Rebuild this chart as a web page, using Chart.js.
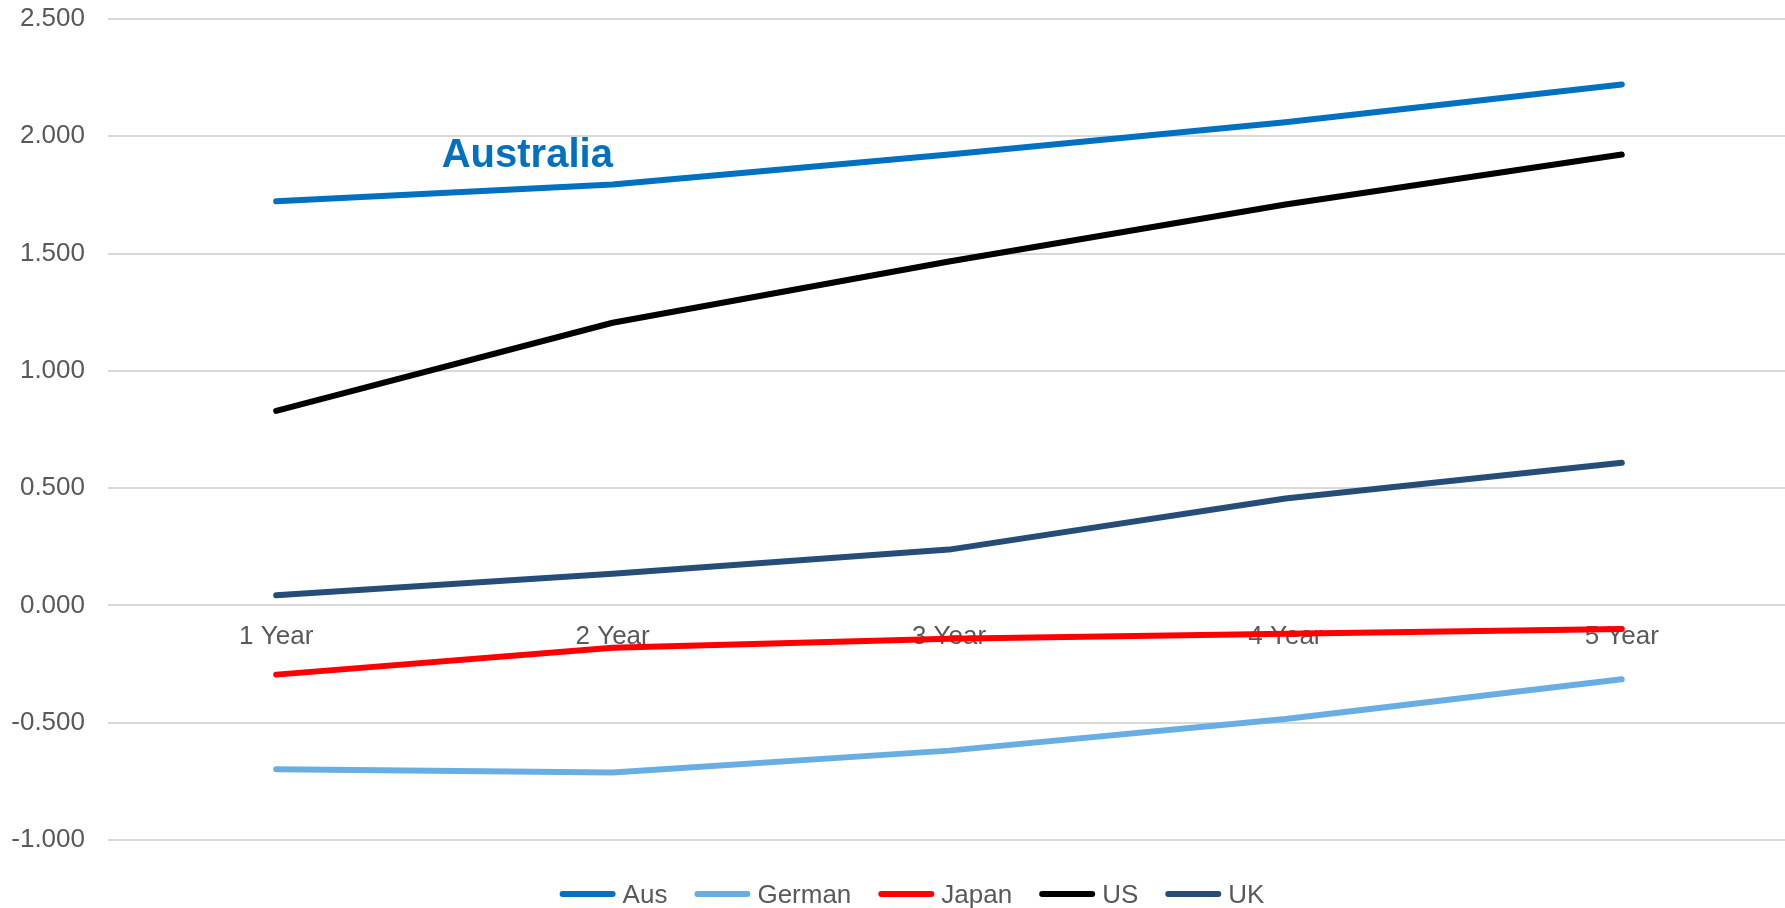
<!DOCTYPE html>
<html>
<head>
<meta charset="utf-8">
<script src="https://cdn.jsdelivr.net/npm/chart.js@4/dist/chart.umd.min.js"></script>
<style>
  html, body { margin: 0; padding: 0; background: #ffffff; overflow: hidden; }
  /* plot runs slightly past the right edge of the page */
  #wrap { width: 1790px; height: 908px; position: relative; }
</style>
</head>
<body>
<div id="wrap"><canvas id="chart"></canvas></div>
<script>
// Government bond yield curves by maturity
const categories = ['1 Year', '2 Year', '3 Year', '4 Year', '5 Year'];
const ausYields    = [1.723, 1.794, 1.922, 2.060, 2.221];
const germanYields = [-0.698, -0.712, -0.619, -0.484, -0.315];
const japanYields  = [-0.295, -0.180, -0.142, -0.121, -0.101];
const usYields     = [0.829, 1.205, 1.466, 1.709, 1.922];
const ukYields     = [0.043, 0.135, 0.238, 0.456, 0.608];
const seriesNames  = ['Aus', 'German', 'Japan', 'US', 'UK'];
const seriesColors = ['#0070C0', '#69AEE2', '#FF0000', '#000000', '#264C78'];
const yTicks = [-1.0, -0.5, 0.0, 0.5, 1.0, 1.5, 2.0, 2.5];

// Callout text, anchored in data units (category index, yield)
const calloutText = 'Australia';
const calloutAt = { x: 0.492, y: 1.867 };

const FONT = '"Liberation Sans", Arial, sans-serif';
const TEXT_GREY = '#595959';

const seriesValues = [ausYields, germanYields, japanYields, usYields, ukYields];

// Legend row under the plot: line swatch followed by the series name
const bottomLegend = {
  id: 'bottomLegend',
  afterDraw(chart) {
    const ctx = chart.ctx;
    const swatch = 56, afterSwatch = 7, afterText = 27;
    ctx.save();
    ctx.font = '26px ' + FONT;
    const items = chart.data.datasets.map(ds => ({
      label: ds.label,
      color: ds.borderColor,
      w: ctx.measureText(ds.label).width
    }));
    const total = items.reduce((s, it) => s + swatch + afterSwatch + it.w + afterText, 0) - afterText;
    let x = 912 - total / 2;
    const cy = 894;
    items.forEach(it => {
      ctx.strokeStyle = it.color;
      ctx.lineWidth = 6;
      ctx.lineCap = 'round';
      ctx.beginPath();
      ctx.moveTo(x + 3, cy);
      ctx.lineTo(x + swatch - 3, cy);
      ctx.stroke();
      x += swatch + afterSwatch;
      ctx.fillStyle = TEXT_GREY;
      ctx.textAlign = 'left';
      ctx.textBaseline = 'alphabetic';
      ctx.fillText(it.label, x, 903);
      x += it.w + afterText;
    });
    ctx.restore();
  }
};

// Series callout placed through the chart's scales
const callout = {
  id: 'callout',
  afterDatasetsDraw(chart) {
    const { ctx, scales } = chart;
    const px = scales.x.getPixelForValue(calloutAt.x);
    const py = scales.y.getPixelForValue(calloutAt.y);
    ctx.save();
    ctx.font = 'bold 40px ' + FONT;
    ctx.fillStyle = seriesColors[0];
    ctx.textAlign = 'left';
    ctx.textBaseline = 'alphabetic';
    ctx.fillText(calloutText, px, py);
    ctx.restore();
  }
};

const datasets = seriesNames.map((name, i) => ({
  label: name,
  data: seriesValues[i],
  borderColor: seriesColors[i],
  backgroundColor: seriesColors[i],
  borderWidth: 6,
  borderCapStyle: 'round',
  borderJoinStyle: 'round',
  pointRadius: 0,
  pointHoverRadius: 0,
  tension: 0,
  fill: false
}));

new Chart(document.getElementById('chart'), {
  type: 'line',
  data: { labels: categories, datasets },
  options: {
    responsive: true,
    maintainAspectRatio: false,
    animation: false,
    layout: { padding: { left: 11, right: 0, top: 19, bottom: 68 } },
    plugins: {
      legend: { display: false },
      tooltip: { enabled: false }
    },
    scales: {
      x: {
        type: 'category',
        position: { y: 0 },
        offset: true,
        grid: { display: false, drawTicks: false },
        border: { display: false },
        ticks: {
          color: TEXT_GREY,
          font: { family: FONT, size: 26 },
          padding: 16,
          maxRotation: 0,
          autoSkip: false
        }
      },
      y: {
        min: -1,
        max: 2.5,
        afterBuildTicks(scale) {
          scale.ticks = yTicks.map(v => ({ value: v }));
        },
        afterFit(scale) {
          // label column plus gap to the plot edge; end labels may overhang the plot
          scale.width = 97;
          scale.paddingTop = 0;
          scale.paddingBottom = 0;
        },
        grid: { color: '#D9D9D9', lineWidth: 2, drawTicks: false },
        border: { display: false },
        ticks: {
          color: TEXT_GREY,
          font: { family: FONT, size: 26 },
          padding: 23,
          callback: v => Number(v).toFixed(3)
        }
      }
    }
  },
  plugins: [callout, bottomLegend]
});
</script>
</body>
</html>
